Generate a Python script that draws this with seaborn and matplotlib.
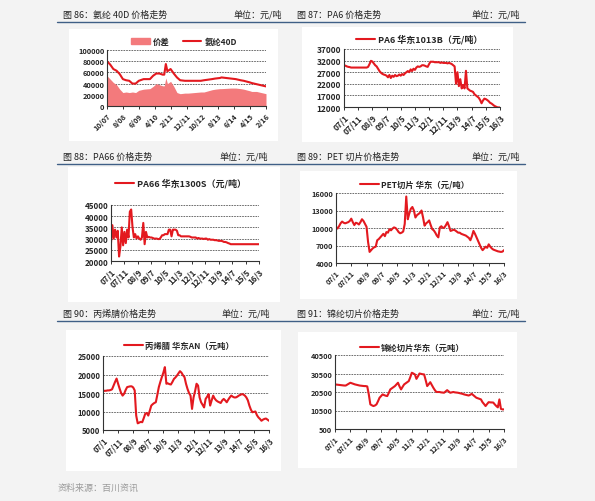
"""
化纤产品价格走势 六联图
"""
import numpy as np
import pandas as pd
import matplotlib
matplotlib.use('Agg')
import matplotlib.pyplot as plt
import seaborn as sns
from matplotlib.patches import Patch

# ---- 数据 (月度, 0 = 2007/01 ... 110 = 2016/03) ----
months = list(range(111))
date_ticks = ['07/1', '07/11', '08/9', '09/7', '10/5', '11/3', '12/1',
              '12/11', '13/9', '14/7', '15/5', '16/3']

# 氨纶 40D: 2007/10 (m9) ... 2016/02 (m109), 用关键月份
spandex_months = [9, 11, 13, 15, 17, 19, 21, 23, 25, 27, 29, 32, 36, 38, 40, 42, 44,
                  45, 46, 47, 49, 51, 53, 55, 58, 60, 68, 70, 75, 77, 80, 81, 87, 90,
                  93, 95, 99, 100, 103, 109]
spandex_price = [80000, 74000, 66000, 63000, 57000, 48000, 46000, 45000, 40000, 40000,
                 45000, 48000, 48000, 54000, 58000, 58000, 56000, 56000, 75000, 62000,
                 66000, 58000, 51000, 46000, 45000, 45000, 45000, 46000, 48000, 49000,
                 50000, 51000, 49000, 48000, 46000, 45000, 42000, 41000, 39000, 35000]
spandex_spread = [54000, 48000, 42000, 38000, 30000, 24000, 25000, 24000, 25000, 24000,
                  28000, 30000, 31000, 35000, 40000, 38000, 36000, 36000, 50000, 40000,
                  44000, 35000, 24000, 22000, 23000, 23000, 25000, 25000, 29000, 30000,
                  31000, 31000, 32000, 32000, 31000, 30000, 27000, 26000, 26000, 22000]
spandex_ticks = ['10/07', '8/08', '6/09', '4/10', '2/11', '12/11', '10/12',
                 '8/13', '6/14', '4/15', '2/16']

pa6 = [30000, 29800, 29500, 29300, 29200, 29000, 29000, 29000, 29000, 29000,
       29000, 29000, 29000, 29000, 29000, 29000, 29000, 29300, 30500, 31900,
       31600, 30800, 30000, 29500, 28500, 27500, 26800, 26300, 26000, 25800,
       25500, 24800, 25800, 24500, 25500, 25000, 25800, 25300, 25500, 26000,
       25500, 26200, 25800, 26500, 27000, 27500, 27000, 28200, 27500, 28500,
       28000, 29000, 29500, 29300, 29500, 30000, 30000, 29800, 29500, 29300,
       30500, 31500, 31500, 31500, 31300, 31300, 31300, 31300, 31000, 31200,
       31000, 31000, 31000, 30800, 31000, 30800, 30500, 30000, 29500, 22000,
       27000, 21000, 24000, 20000, 21500, 20000, 27600, 20000, 19500, 19000,
       18800, 18500, 17500, 17000, 16500, 16000, 15000, 13600, 14800, 15600,
       15400, 15000, 14500, 13800, 13500, 13000, 12500, 12200, 11900, 11800, 11800]

pa66 = [28000, 36000, 30000, 34000, 30500, 33500, 22000, 26500, 35000, 27000,
        33000, 28000, 34000, 30500, 42000, 43000, 35000, 30500, 32000, 30000,
        31000, 30000, 29500, 30500, 37000, 27500, 33000, 30500, 30800, 30500,
        30500, 30300, 30000, 30000, 30000, 29800, 29800, 30500, 31500, 31500,
        32000, 32000, 32000, 34000, 34000, 31000, 34000, 34000, 34000, 33500,
        31500, 31500, 31000, 31000, 31000, 31000, 31000, 31000, 31000, 30800,
        30500, 30500, 30500, 30500, 30000, 30300, 30000, 30000, 30000, 29800,
        30000, 30000, 29500, 29800, 29500, 29500, 29500, 29300, 29300, 29200,
        29000, 29000, 29000, 28800, 28500, 28500, 28300, 28000, 27800, 27500,
        27500, 27500, 27500, 27500, 27500, 27500, 27500, 27500, 27500, 27500,
        27500, 27500, 27500, 27500, 27500, 27500, 27500, 27500, 27500, 27500, 27500]

pet = [10200, 9900, 10300, 10800, 11100, 10900, 10800, 10900, 11000, 11200,
       11600, 11000, 10500, 10900, 10800, 10600, 11000, 11500, 11200, 10700,
       10200, 7600, 5900, 6200, 6500, 6700, 6800, 7900, 8100, 8400,
       8700, 9000, 8600, 9300, 9200, 9800, 9600, 9900, 10100, 10000,
       9700, 9300, 9100, 9200, 9400, 10700, 15400, 11500, 12500, 13300,
       13600, 13000, 11800, 12200, 12400, 12600, 13000, 11800, 10400, 10800,
       11000, 11300, 10500, 9800, 9600, 9200, 8700, 8400, 10100, 10300,
       10000, 10100, 10500, 11000, 10300, 9500, 9600, 9700, 9600, 9400,
       9200, 9200, 9000, 8900, 8800, 8700, 8500, 8300, 7900, 8600,
       9500, 9000, 8400, 7800, 7200, 6600, 6200, 6500, 6800, 6600,
       7200, 6800, 6500, 6300, 6200, 6100, 6000, 5950, 5900, 5950, 6200]

acrylonitrile = [15500, 15600, 15600, 15700, 15700, 15800, 16000, 17000, 18000, 18900,
                 17500, 16200, 15000, 14300, 14800, 15800, 16600, 16700, 16800, 16800,
                 16500, 15700, 8900, 6800, 7000, 7200, 7100, 8200, 9400, 9600,
                 8900, 10200, 11600, 12000, 12300, 12500, 14500, 16600, 18000, 19300,
                 20500, 22000, 17500, 17600, 17400, 17300, 18000, 18800, 19200, 19700,
                 20300, 20900, 20500, 19800, 19300, 17500, 16100, 15000, 14300, 10700,
                 13800, 15500, 17500, 17000, 13800, 12500, 11800, 11100, 13400, 14000,
                 14700, 11600, 13000, 14300, 13500, 13000, 12700, 12500, 12300, 13000,
                 13400, 13000, 12500, 13200, 13800, 14300, 14000, 13800, 13800, 14000,
                 14300, 14500, 14700, 14600, 14300, 13800, 13000, 11600, 10500, 9800,
                 9900, 10000, 9000, 8400, 8000, 7500, 7800, 8000, 8100, 7800, 7500]

nylon_chip = [24600, 24500, 24400, 24300, 24200, 24100, 24000, 24000, 24500, 25000,
              25500, 25200, 24900, 24600, 24400, 24200, 24000, 23900, 23800, 23700,
              23700, 23500, 19200, 13800, 13300, 12900, 13200, 13800, 15500, 17400,
              18300, 19200, 18800, 18500, 18300, 20000, 21900, 22500, 23100, 23700,
              24600, 25500, 23500, 21900, 23300, 24600, 25200, 25800, 26400, 28500,
              30900, 30500, 30000, 27600, 29000, 30500, 30300, 30100, 30000, 27000,
              23700, 24700, 25800, 24300, 22800, 21500, 20500, 20500, 20500, 20300,
              20200, 20100, 20800, 21500, 20800, 20100, 20300, 20500, 20300, 20200,
              20100, 19900, 19700, 19500, 19200, 19000, 18800, 18600, 19000, 19500,
              18800, 18100, 17400, 17100, 16800, 16500, 15000, 14000, 12900, 14000,
              15000, 14900, 14850, 14800, 13800, 12900, 12200, 16500, 11400, 11100, 11100]

PAGE_W, PAGE_H = 595, 502
RED = '#e3191f'
PINK = '#f37a7c'
BLUE_LINE = '#3f5f86'
LW = 1.5

sns.set_theme(style='white')
plt.rcParams['font.family'] = ['Noto Sans CJK SC', 'DejaVu Sans']
plt.rcParams['axes.unicode_minus'] = False

fig = plt.figure(figsize=(PAGE_W / 100, PAGE_H / 100), dpi=100, facecolor='#f3f3f3')


def px_axes(left, top, right, bottom, **kw):
    """픽셀 좌표로 축 만들기"""
    return fig.add_axes([left / PAGE_W, 1 - bottom / PAGE_H,
                         (right - left) / PAGE_W, (bottom - top) / PAGE_H], **kw)


def fx(x):
    return x / PAGE_W


def fy(y):
    return 1 - y / PAGE_H


def white_box(left, top, right, bottom):
    box = px_axes(left, top, right, bottom)
    box.set_facecolor('white')
    box.set_xticks([])
    box.set_yticks([])
    for s in box.spines.values():
        s.set_visible(False)
    return box


def style_axis(ax, xlim, ylim, yticks, xticks, xlabels, fs):
    ax.set_facecolor('none')
    ax.set_xlim(*xlim)
    ax.set_ylim(*ylim)
    ax.set_yticks(yticks)
    ax.set_yticklabels([str(v) for v in yticks], fontsize=fs, fontweight='bold')
    ax.set_xticks(xticks)
    ax.set_xticklabels(xlabels, fontsize=fs, fontweight='bold', rotation=45,
                       ha='right', rotation_mode='anchor')
    ax.tick_params(axis='y', length=0, pad=2)
    ax.tick_params(axis='x', length=2.5, width=0.7, direction='out', pad=1.5,
                   bottom=True, color='#333333')
    ax.set_xlabel('')
    ax.set_ylabel('')
    for s in ['top', 'right']:
        ax.spines[s].set_visible(False)
    for s in ['left', 'bottom']:
        ax.spines[s].set_color('#333333')
        ax.spines[s].set_linewidth(0.8)
    for v in yticks[1:]:
        ax.axhline(v, color='#555555', linewidth=0.6, linestyle=(0, (2, 1.2)), zorder=0)


def header(y, left_title, right_title, unit_x_left):
    fig.text(fx(63), fy(y), left_title, fontsize=6.5, va='center', color='#222222')
    fig.text(fx(unit_x_left), fy(y), '单位：元/吨', fontsize=6.5, va='center', color='#222222')
    fig.text(fx(297), fy(y), right_title, fontsize=6.5, va='center', color='#222222')
    fig.text(fx(472), fy(y), '单位：元/吨', fontsize=6.5, va='center', color='#222222')
    fig.add_artist(plt.Line2D([fx(57), fx(525)], [fy(y + 8), fy(y + 8)],
                              color=BLUE_LINE, linewidth=1.0))


def line_legend(ax, x, y, fs):
    ax.legend(loc='center left', bbox_to_anchor=(fx(x), fy(y)), bbox_transform=fig.transFigure,
              frameon=False, handlelength=2.2, handletextpad=0.3, borderpad=0,
              prop={'size': fs, 'weight': 'bold'})


date_xticks = list(range(0, 111, 10))

# ---- 第一行 ----
header(15, '图 86：氨纶 40D 价格走势', '图 87：PA6 价格走势', 234)

white_box(69, 30, 278, 142)
ax1 = px_axes(107, 51, 266, 107)
ax1.fill_between(spandex_months, spandex_spread, 0, color=PINK, linewidth=0, label='价差')
sns.lineplot(x=spandex_months, y=spandex_price, ax=ax1, color=RED, linewidth=LW,
             label='氨纶40D')
style_axis(ax1, (9, 109), (0, 100000), list(range(0, 100001, 20000)),
           list(range(9, 110, 10)), spandex_ticks, 5.3)
ax1.legend(handles=[Patch(color=PINK, label='价差'),
                    plt.Line2D([], [], color=RED, linewidth=LW, label='氨纶40D')],
           loc='center left', bbox_to_anchor=(fx(127), fy(42)), bbox_transform=fig.transFigure,
           frameon=False, ncol=2, handlelength=2.2, handleheight=0.7, handletextpad=0.4,
           columnspacing=1.6, borderpad=0, prop={'size': 6, 'weight': 'bold'})

white_box(302, 28, 513, 143)
ax2 = px_axes(344, 50, 500, 108)
sns.lineplot(x=months, y=pa6, ax=ax2, color=RED, linewidth=LW,
             label='PA6 华东1013B（元/吨）')
style_axis(ax2, (0, 110), (12000, 37000), list(range(12000, 37001, 5000)),
           date_xticks, date_ticks, 6)
line_legend(ax2, 351, 40, 6.5)

# ---- 第二行 ----
header(157, '图 88：PA66 价格走势', '图 89：PET 切片价格走势', 219)

white_box(68, 168, 280, 303)
ax3 = px_axes(111, 206, 259, 262)
sns.lineplot(x=months, y=pa66, ax=ax3, color=RED, linewidth=LW,
             label='PA66 华东1300S（元/吨）')
style_axis(ax3, (0, 110), (20000, 45000), list(range(20000, 45001, 5000)),
           date_xticks, date_ticks, 5.8)
line_legend(ax3, 110, 184, 6.5)

white_box(300, 172, 517, 300)
ax4 = px_axes(336, 194, 504, 264)
sns.lineplot(x=months, y=pet, ax=ax4, color=RED, linewidth=LW,
             label='PET切片 华东（元/吨）')
style_axis(ax4, (0, 110), (4000, 16000), list(range(4000, 16001, 3000)),
           date_xticks, date_ticks, 5.3)
line_legend(ax4, 356, 185, 6)

# ---- 第三行 ----
header(314, '图 90：丙烯腈价格走势', '图 91：锦纶切片价格走势', 222)

white_box(66, 331, 281, 472)
ax5 = px_axes(103, 357, 269, 431)
sns.lineplot(x=months, y=acrylonitrile, ax=ax5, color=RED, linewidth=LW,
             label='丙烯腈 华东AN（元吨）')
style_axis(ax5, (0, 110), (5000, 25000), list(range(5000, 25001, 5000)),
           date_xticks, date_ticks, 5.5)
line_legend(ax5, 120, 346, 6)

white_box(298, 333, 517, 469)
ax6 = px_axes(335, 356, 504, 430)
sns.lineplot(x=months, y=nylon_chip, ax=ax6, color=RED, linewidth=LW,
             label='锦纶切片华东（元吨）')
style_axis(ax6, (0, 110), (500, 40500), list(range(500, 40501, 10000)),
           date_xticks, date_ticks, 5.3)
line_legend(ax6, 356, 348, 6)

fig.text(fx(58), fy(488), '资料来源：百川资讯', fontsize=6.5, va='center',
         color='#9a9a9a', style='italic')

fig.savefig('out.png', dpi=100, facecolor=fig.get_facecolor())
